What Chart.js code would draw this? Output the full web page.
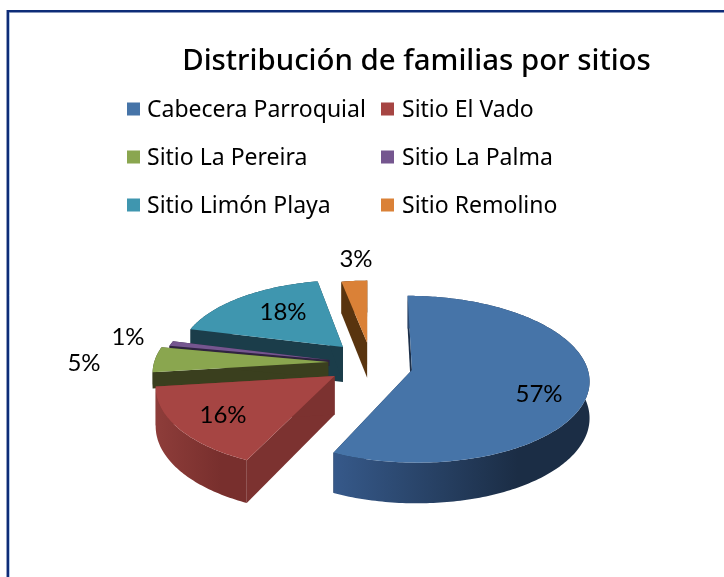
<!DOCTYPE html>
<html><head><meta charset="utf-8">
<style>html,body{margin:0;padding:0;background:#fff;overflow:hidden}canvas{display:block}</style>
<script src="https://cdn.jsdelivr.net/npm/chart.js@4"></script>
</head><body><canvas id="c" width="724" height="577"></canvas>
<script>
const titleText = "Distribución de familias por sitios";
const categories = ["Cabecera Parroquial","Sitio El Vado","Sitio La Pereira","Sitio La Palma","Sitio Limón Playa","Sitio Remolino"];
const seriesValues = [57,16,5,1,18,3];
const topColors = ["#4674A8","#A64543","#8AA64F","#75568F","#3F96AF","#DA8137"];
const wallColors = ["#1C2F49","#7C3230","#3A3F1E","#2F2340","#1B3D4A","#59340F"];
const arcLight = ["#36598A","#8E3D3A","#3A3F1E","#2F2340","#1B3D4A","#59340F"];
const arcDark = ["#1B2D45","#782F2D","#3A3F1E","#2F2340","#1B3D4A","#59340F"];
const explodeU = [0.244,-0.194,-0.234,-0.229,-0.153,-0.011];
const explodeV = [0.049,0.120,-0.049,-0.074,-0.239,-0.294];
const radiusScale = [1,1,1,0.96,0.95,0.89];
const sliceDepth = [36,38,16,6,36,36];
const labelAnchors = [[539,394],[223,415],[84,363],[128,337],[283,312],[356,259]];
const view = {cx:369, cy:366, R:175, K:81.5, p:0.11};
const legendLayout = {swatchX:[127,381], textX:[147,402], rowY:[110.5,158.5,206.5], swatch:13};

function proj(u,v,z){const d=1-view.p*v;return [view.cx+view.R*u/d, view.cy+(view.K*v+z)/d];}
function polygon(ctx,pts){ctx.beginPath();pts.forEach((q,i)=>i?ctx.lineTo(q[0],q[1]):ctx.moveTo(q[0],q[1]));ctx.closePath();}

const pie3d = {
  id:'pie3d',
  beforeDraw(chart){
    const ctx=chart.ctx;
    ctx.save();
    ctx.fillStyle='#fff';ctx.fillRect(0,0,724,577);
    ctx.strokeStyle='#BCD0EE';ctx.lineWidth=1;
    ctx.beginPath();ctx.moveTo(9.5,590);ctx.lineTo(9.5,13);ctx.stroke();
    ctx.strokeStyle='#0E2C78';ctx.lineWidth=2.5;
    ctx.beginPath();ctx.moveTo(7.8,590);ctx.lineTo(7.8,11.2);ctx.lineTo(740,11.2);ctx.stroke();
    ctx.fillStyle='#000';ctx.textBaseline='middle';ctx.textAlign='center';
    ctx.font='500 29.4px "Noto Sans"';
    ctx.fillText(titleText,416.5,62);
    ctx.textAlign='left';ctx.font='23px "Noto Sans"';
    categories.forEach((name,i)=>{
      const col=i%2,row=Math.floor(i/2),y=legendLayout.rowY[row];
      ctx.fillStyle=topColors[i];
      ctx.fillRect(legendLayout.swatchX[col],y-1.5-legendLayout.swatch/2,legendLayout.swatch,legendLayout.swatch);
      ctx.fillStyle='#000';
      ctx.fillText(name,legendLayout.textX[col],y);
    });
    ctx.restore();
  },
  beforeDatasetsDraw(chart){
    const ctx=chart.ctx,arcs=chart.getDatasetMeta(0).data;
    const order=arcs.map((a,i)=>{const p=a.getProps(['startAngle','endAngle']);return {i,s:p.startAngle,e:p.endAngle,m:(p.startAngle+p.endAngle)/2};})
      .sort((a,b)=>Math.sin(a.m)-Math.sin(b.m));
    ctx.save();
    order.forEach(o=>{
      const ou=explodeU[o.i],ov=explodeV[o.i],rs=radiusScale[o.i],dp=sliceDepth[o.i];
      const steps=Math.max(2,Math.ceil((o.e-o.s)/(Math.PI/180)));
      const rim=[];
      for(let k=0;k<=steps;k++){const a=o.s+(o.e-o.s)*k/steps;rim.push([ou+rs*Math.cos(a),ov+rs*Math.sin(a)]);}
      const top=rim.map(q=>proj(q[0],q[1],0)),bot=rim.map(q=>proj(q[0],q[1],dp));
      const at=proj(ou,ov,0),ab=proj(ou,ov,dp);
      ctx.fillStyle=wallColors[o.i];
      polygon(ctx,[at,top[0],bot[0],ab]);ctx.fill();
      polygon(ctx,[at,top[steps],bot[steps],ab]);ctx.fill();
      const xs=top.map(q=>q[0]),x0=Math.min(...xs),x1=Math.max(...xs);
      const g=ctx.createLinearGradient(x0,0,x1,0);
      g.addColorStop(0,arcLight[o.i]);g.addColorStop(0.72,arcDark[o.i]);g.addColorStop(1,arcDark[o.i]);
      ctx.fillStyle=g;
      polygon(ctx,top.concat(bot.slice().reverse()));ctx.fill();
      ctx.fillStyle=topColors[o.i];
      polygon(ctx,[at].concat(top));ctx.fill();
    });
    ctx.fillStyle='#000';ctx.font='24px Lato';ctx.textAlign='center';ctx.textBaseline='middle';
    seriesValues.forEach((v,i)=>ctx.fillText(v+'%',labelAnchors[i][0],labelAnchors[i][1]));
    ctx.restore();
    return false;
  }
};
new Chart(document.getElementById('c'),{
  type:'pie',
  data:{labels:categories,datasets:[{data:seriesValues,backgroundColor:topColors,borderWidth:0}]},
  options:{responsive:false,animation:false,plugins:{legend:{display:false},title:{display:false},tooltip:{enabled:false}}},
  plugins:[pie3d]
});
</script></body></html>
